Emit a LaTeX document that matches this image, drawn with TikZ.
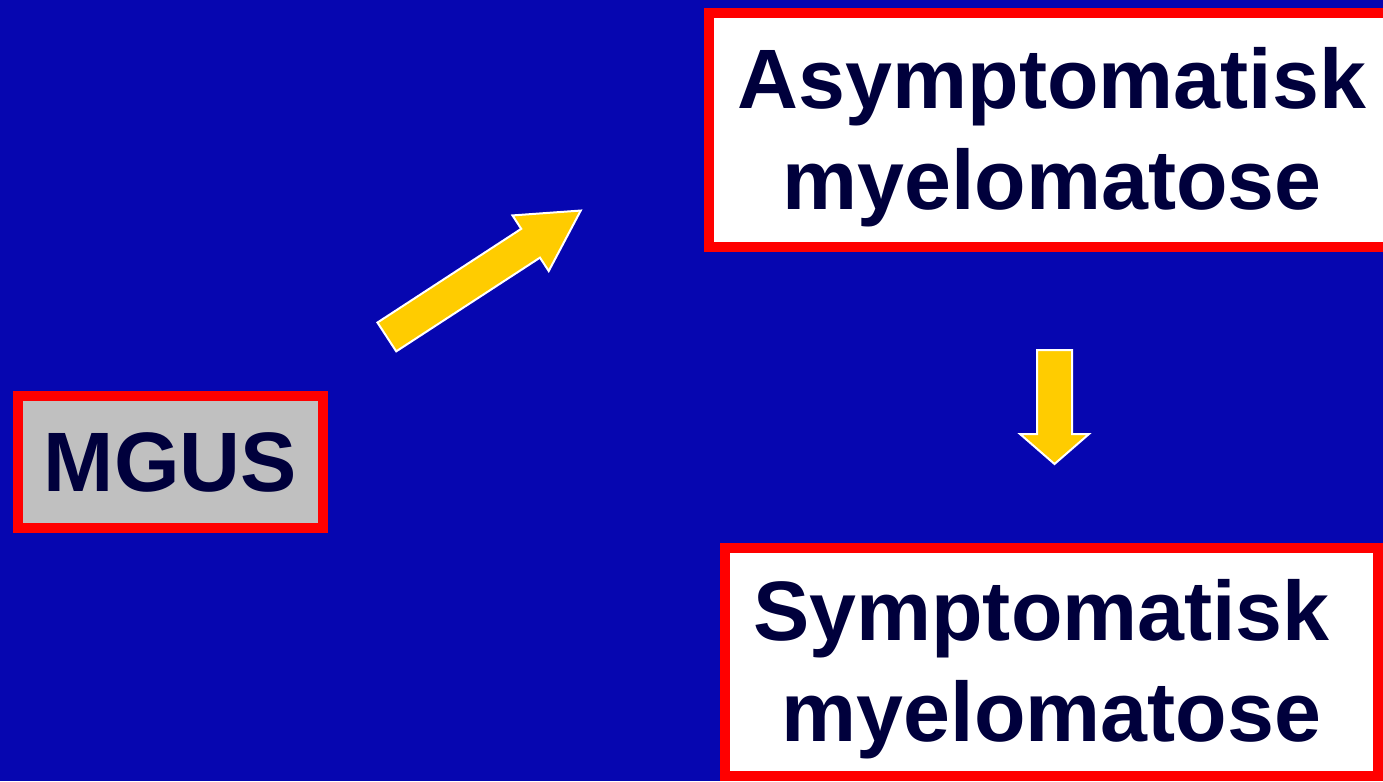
\documentclass[tikz,border=0pt]{standalone}
\usepackage{fontspec}
\setmainfont{Liberation Sans}
\usetikzlibrary{shapes.arrows}
\definecolor{bgblue}{RGB}{6,6,176}
\definecolor{boxred}{RGB}{255,0,0}
\definecolor{boxgray}{RGB}{192,192,192}
\definecolor{navytext}{RGB}{0,0,60}
\definecolor{arrowyellow}{RGB}{255,204,0}
\newcommand{\toplift}{\rule{0pt}{43pt}}
\begin{document}
\begin{tikzpicture}[
  stagebox/.style={draw=boxred,line width=0.2cm,fill=white,align=center,inner sep=0pt,
    text=navytext,font=\fontsize{48}{57}\selectfont\bfseries},
  blockarrow/.style={single arrow,draw=white,line width=0.04cm,fill=arrowyellow,
    anchor=tail,single arrow head indent=0pt}]
  \useasboundingbox (0,0) rectangle (27.66,-15.62);
  \clip (0,0) rectangle (27.66,-15.62);
  \fill[bgblue] (0,0) rectangle (27.66,-15.62);
  \node[stagebox,fill=boxgray,minimum width=6.1cm,minimum height=2.64cm] (mgus) at (3.41,-9.24) {MGUS};
  \node[stagebox,minimum width=13.72cm,minimum height=4.69cm] (asym) at (21.04,-2.6) {\toplift Asymptomatisk\\myelomatose};
  \node[stagebox,minimum width=13.06cm,minimum height=4.56cm] (symp) at (21.03,-13.24) {\toplift Symptomatisk\hspace*{0.4cm}\\myelomatose};
  % overgang mellom stadiene
  \node[blockarrow,inner sep=0.324cm,minimum height=4.63cm,single arrow head extend=0.32cm,
    single arrow tip angle=58,rotate=33.1] (arrup) at (7.72,-6.75) {};
  \node[blockarrow,inner sep=0.33cm,minimum height=2.28cm,single arrow head extend=0.34cm,
    single arrow tip angle=98,rotate=-90] (arrdown) at (21.09,-6.98) {};
\end{tikzpicture}
\end{document}
